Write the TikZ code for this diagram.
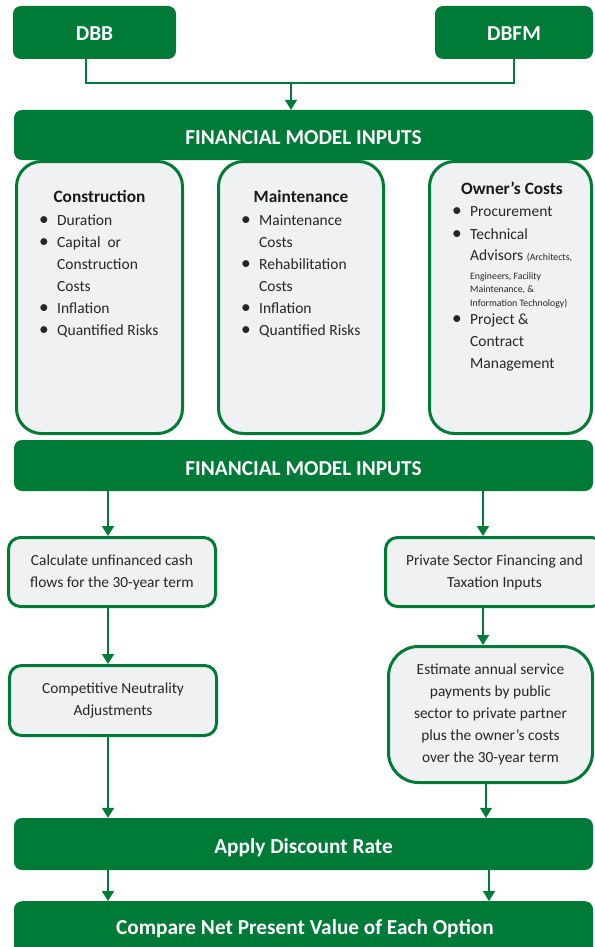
\documentclass[tikz,border=0pt]{standalone}
\usepackage{fontspec}
\setmainfont{Carlito}
\usetikzlibrary{arrows.meta}
\definecolor{pgreen}{RGB}{0,122,55}
\definecolor{pfill}{RGB}{240,241,243}
\definecolor{ptext}{RGB}{38,38,38}
\tikzset{
  hdr/.style={fill=pgreen, draw=none, rounded corners=8pt, text=white,
    font=\bfseries\fontsize{21.3}{25}\selectfont, inner sep=0pt,
    text height=19.6pt, text depth=0pt},
  panel/.style={fill=pfill, draw=pgreen, line width=3pt, rounded corners=25pt, inner sep=0pt},
  procbox/.style={fill=pfill, draw=pgreen, line width=3pt, rounded corners=12pt,
    align=center, text=ptext, font=\fontsize{15.4}{22}\selectfont, inner sep=0pt},
  ptitle/.style={font=\bfseries\fontsize{17.3}{20}\selectfont, text=black!90, inner sep=0pt},
  plist/.style={font=\fontsize{15.5}{22}\selectfont, text=ptext, inner sep=0pt, anchor=north west},
  conn/.style={draw=pgreen, line width=1.6pt},
  arr/.style={conn, -{Triangle[width=12pt,length=10pt]}}
}
\newcommand\smtxt[1]{{\fontsize{9.8}{11}\selectfont #1}}
\newcommand\bigbul{\raisebox{0.5pt}{\scalebox{1.25}{\textbullet}}}
\begin{document}
\begin{tikzpicture}[x=1pt,y=-1pt]
\useasboundingbox (0,0) rectangle (594,947);
% top boxes
\node[hdr, text height=17pt, minimum width=163pt, minimum height=53pt] (dbb) at (94.5,32.5) {DBB};
\node[hdr, text height=17pt, minimum width=158pt, minimum height=53pt] (dbfm) at (514,32.5) {DBFM};
% panels
\node[panel, minimum width=166pt, minimum height=272pt] (con) at (99.5,297.5) {};
\node[panel, minimum width=165pt, minimum height=272pt] (mai) at (301,297.5) {};
\node[panel, minimum width=162pt, minimum height=272pt] (own) at (510.5,297.5) {};
% headers
\node[hdr, minimum width=579pt, minimum height=50pt] (fmi1) at (303.5,135) {FINANCIAL MODEL INPUTS};
\node[hdr, minimum width=579pt, minimum height=51pt] (fmi2) at (303.5,465.5) {FINANCIAL MODEL INPUTS};
% panel contents
\node[ptitle] (cont) at (99.5,196) {Construction};
\node[plist] (conl) at (39,210) {\begin{tabular}{@{}p{18pt}@{}l@{}}
\bigbul & Duration\\
\bigbul & Capital\ \ or\\
 & Construction\\
 & Costs\\
\bigbul & Inflation\\
\bigbul & Quantified Risks
\end{tabular}};
\node[ptitle] (mait) at (301,196) {Maintenance};
\node[plist] (mail) at (241,210) {\begin{tabular}{@{}p{18pt}@{}l@{}}
\bigbul & Maintenance\\
 & Costs\\
\bigbul & Rehabilitation\\
 & Costs\\
\bigbul & Inflation\\
\bigbul & Quantified Risks
\end{tabular}};
\node[ptitle] (ownt) at (512,188) {Owner’s Costs};
\node[plist] (ownl) at (452,201) {\begin{tabular}{@{}p{18pt}@{}l@{}}
\bigbul & Procurement\\[1pt]
\bigbul & Technical\\[-1pt]
 & Advisors \smtxt{(Architects,}\\[-3pt]
 & \smtxt{Engineers, Facility}\\[-9pt]
 & \smtxt{Maintenance, \&}\\[-8pt]
 & \smtxt{Information Technology)}\\[-4pt]
\bigbul & Project \&\\
 & Contract\\
 & Management
\end{tabular}};
% process boxes
\node[procbox, minimum width=207pt, minimum height=69pt] (calc) at (112,572)
  {Calculate unfinanced cash\\flows for the 30-year term};
\node[procbox, minimum width=207pt, minimum height=70pt] (comp) at (113,700.5)
  {Competitive Neutrality\\Adjustments};
\node[procbox, minimum width=218pt, minimum height=69pt] (priv) at (494.5,572)
  {Private Sector Financing and\\Taxation Inputs};
\node[procbox, rounded corners=30pt, minimum width=204pt, minimum height=136pt] (est) at (490.5,714.5)
  {Estimate annual service\\payments by public\\sector to private partner\\plus the owner’s costs\\over the 30-year term};
% bottom headers
\node[hdr, minimum width=579pt, minimum height=52pt] (disc) at (303.5,844) {Apply Discount Rate};
\node[hdr, minimum width=579pt, minimum height=60pt, anchor=north] (npv) at (303.5,901) {};
\node[font=\bfseries\fontsize{21.3}{25}\selectfont, text=white, inner sep=0pt] (npvt) at (305,929) {Compare Net Present Value of Each Option};
% connectors
\coordinate (jl) at (86,83);
\coordinate (jr) at (514,83);
\coordinate (jm) at (291,83);
\draw[conn] ([xshift=-8.5pt]dbb.south) -- (jl) -- (jr) -- (dbfm.south);
\draw[arr] (jm) -- (fmi1.north -| jm);
\draw[arr] (fmi2.south -| 108,0) -- (calc.north -| 108,0);
\draw[arr] (calc.south -| 108,0) -- (comp.north -| 108,0);
\draw[arr] (comp.south -| 108,0) -- (disc.north -| 108,0);
\draw[arr] (fmi2.south -| 483,0) -- (priv.north -| 483,0);
\draw[arr] (priv.south -| 483,0) -- (est.north -| 483,0);
\draw[arr] (est.south -| 486,0) -- (disc.north -| 486,0);
\draw[arr] (disc.south -| 108,0) -- (npv.north -| 108,0);
\draw[arr] (disc.south -| 489,0) -- (npv.north -| 489,0);
\end{tikzpicture}
\end{document}
